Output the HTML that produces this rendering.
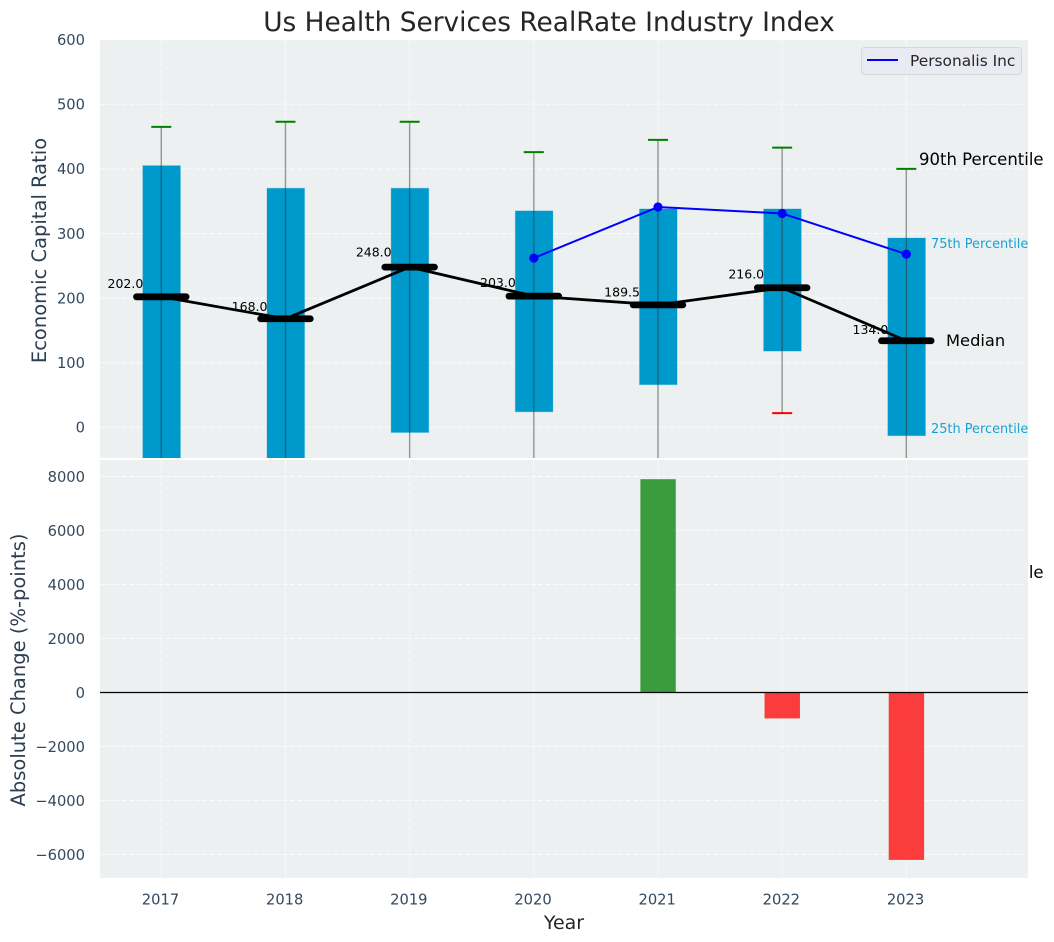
<!DOCTYPE html>
<html>
<head>
<meta charset="utf-8">
<title>Us Health Services RealRate Industry Index</title>
<style>
html,body{margin:0;padding:0;background:#fff;}
svg{display:block;font-family:"DejaVu Sans","Liberation Sans",sans-serif;}
</style>
</head>
<body>
<svg id="chart" width="1054" height="942" viewBox="0 0 1054 942" xmlns="http://www.w3.org/2000/svg">
<defs>
<clipPath id="clip-top"><rect x="100" y="40" width="928" height="418"/></clipPath>
<clipPath id="clip-bottom"><rect x="100" y="460" width="928" height="418"/></clipPath>
</defs>
<text x="549" y="31" font-size="26.4" fill="#262626" text-anchor="middle">Us Health Services RealRate Industry Index</text>
<text x="919" y="578" font-size="16.5" fill="#000">10th Percentile</text>
<rect x="100" y="40" width="928" height="418" fill="#ecf0f1"/>
<rect x="100" y="460" width="928" height="418" fill="#ecf0f1"/>
<g id="grid-layer"></g>
<g id="top-layer" clip-path="url(#clip-top)"></g>
<g id="bottom-layer" clip-path="url(#clip-bottom)"></g>
<g id="label-layer"></g>
<g id="tick-layer"></g>
<text transform="translate(46,250.5) rotate(-90)" font-size="19.5" fill="#2c3e50" text-anchor="middle">Economic Capital Ratio</text>
<text transform="translate(25,670) rotate(-90)" font-size="19.5" fill="#2c3e50" text-anchor="middle">Absolute Change (%-points)</text>
<text x="564" y="929" font-size="19" fill="#262626" text-anchor="middle">Year</text>
<text x="919" y="165" font-size="16.5" fill="#000">90th Percentile</text>
<text x="931" y="248" font-size="12.9" fill="#0099cc" fill-opacity="0.9">75th Percentile</text>
<text x="946" y="346" font-size="16.3" fill="#000">Median</text>
<text x="931" y="433" font-size="12.9" fill="#0099cc" fill-opacity="0.9">25th Percentile</text>
<g>
<rect x="861.5" y="47.5" width="160" height="27" rx="3" fill="#eaeaf2" stroke="#d5d8dc"/>
<line x1="867" x2="898" y1="60" y2="60" stroke="#0000ff" stroke-width="2"/>
<text x="910" y="66" font-size="15.4" fill="#262626">Personalis Inc</text>
</g>
<script>
var years = [2017, 2018, 2019, 2020, 2021, 2022, 2023];
var p90 = [465, 473, 473, 426, 445, 433, 400];
var p75 = [405, 370, 370, 335, 338, 338, 293];
var medians = [202, 168, 248, 203, 189.5, 216, 134];
var p25 = [-90, -90, -8, 24, 66, 118, -13];
var p10 = [-160, -160, -160, -160, -160, 22, -160];
var company = [null, null, null, 262, 341, 331, 268];
var changes = [null, null, null, null, 7900, -960, -6200];
var topTicks = [0, 100, 200, 300, 400, 500, 600];
var bottomTicks = [-6000, -4000, -2000, 0, 2000, 4000, 6000, 8000];

var NS = 'http://www.w3.org/2000/svg';
function xPos(v) { return 161.3 + (v - 2017) * 124.17; }
function yTop(v) { return 427.3 - v * 0.646; }
function yBottom(v) { return 692.5 - v * 0.027; }
function make(parent, tag, props) {
  var el = document.createElementNS(NS, tag);
  for (var k in props) { el.setAttribute(k, props[k]); }
  parent.appendChild(el);
  return el;
}
var grid = document.getElementById('grid-layer');
var topLayer = document.getElementById('top-layer');
var bottomLayer = document.getElementById('bottom-layer');
var labelLayer = document.getElementById('label-layer');
var tickLayer = document.getElementById('tick-layer');
var dash = '5.1 2.2';

topTicks.forEach(function (t) {
  var y = yTop(t);
  var g = make(grid, 'line', {x1: 100, x2: 1028, y1: y, y2: y, stroke: '#fff', 'stroke-width': 1, 'stroke-dasharray': dash, 'stroke-opacity': 0.75});
  
  
  var l = make(tickLayer, 'text', {x: 85, y: y + 5.3, 'font-size': 14.7, fill: '#34495e', 'text-anchor': 'end'});
  l.textContent = String(t);
  
  
});
bottomTicks.forEach(function (t) {
  var y = yBottom(t);
  var g = make(grid, 'line', {x1: 100, x2: 1028, y1: y, y2: y, stroke: '#fff', 'stroke-width': 1, 'stroke-dasharray': dash, 'stroke-opacity': 0.75});
  
  
  var l = make(tickLayer, 'text', {x: 85, y: y + 5.3, 'font-size': 14.7, fill: '#34495e', 'text-anchor': 'end'});
  l.textContent = String(t).replace('-', '\u2212');
  
  
});
years.forEach(function (yr) {
  var x = xPos(yr);
  var a = make(grid, 'line', {x1: x, x2: x, y1: 40, y2: 458, stroke: '#fff', 'stroke-width': 1, 'stroke-dasharray': dash, 'stroke-opacity': 0.75});
  
  
  var b = make(grid, 'line', {x1: x, x2: x, y1: 460, y2: 878, stroke: '#fff', 'stroke-width': 1, 'stroke-dasharray': dash, 'stroke-opacity': 0.75});
  
  
  var l = make(tickLayer, 'text', {x: x - 0.8, y: 904.5, 'font-size': 14.7, fill: '#34495e', 'text-anchor': 'middle'});
  l.textContent = String(yr);
  
  
});

years.forEach(function (yr, i) {
  var x = xPos(yr);
  var box = make(topLayer, 'rect', {x: x - 18.5, y: yTop(p75[i]), width: 37.6, height: yTop(p25[i]) - yTop(p75[i]), fill: '#0099cc', stroke: '#0099cc', 'stroke-opacity': 0.25, 'stroke-width': 1});
  
  
});
years.forEach(function (yr, i) {
  var x = xPos(yr);
  var w = make(topLayer, 'line', {x1: x, x2: x, y1: yTop(p90[i]), y2: yTop(p10[i]), stroke: '#333', 'stroke-opacity': 0.5, 'stroke-width': 1.4});
  
  
  var c = make(topLayer, 'line', {x1: x - 10, x2: x + 10, y1: yTop(p90[i]), y2: yTop(p90[i]), stroke: '#008000', 'stroke-width': 2});
  
  
  var d = make(topLayer, 'line', {x1: x - 10, x2: x + 10, y1: yTop(p10[i]), y2: yTop(p10[i]), stroke: '#ff0000', 'stroke-width': 2});
  
  
});

var medianPts = years.map(function (yr, i) { return xPos(yr) + ',' + yTop(medians[i]); }).join(' ');
var medLine = make(topLayer, 'polyline', {points: medianPts, fill: 'none', stroke: '#000', 'stroke-width': 2.8});



years.forEach(function (yr, i) {
  var x = xPos(yr);
  var y = yTop(medians[i]);
  var m = make(topLayer, 'line', {x1: x - 24.8, x2: x + 24.8, y1: y, y2: y, stroke: '#000', 'stroke-width': 6.8, 'stroke-linecap': 'round'});
  
  
  var t = make(labelLayer, 'text', {x: x - 18, y: yTop(medians[i] * 1.05) - 2.5, 'font-size': 12.5, fill: '#000', 'text-anchor': 'end'});
  t.textContent = medians[i].toFixed(1);
  
  
});

var companyPts = [];
years.forEach(function (yr, i) {
  if (company[i] !== null) { companyPts.push(xPos(yr) + ',' + yTop(company[i])); }
});
var compLine = make(topLayer, 'polyline', {points: companyPts.join(' '), fill: 'none', stroke: '#0000ff', 'stroke-width': 2});


years.forEach(function (yr, i) {
  if (company[i] === null) { return; }
  var p = make(topLayer, 'circle', {cx: xPos(yr), cy: yTop(company[i]), r: 4.6, fill: '#0000ff'});
  
  
});

years.forEach(function (yr, i) {
  if (changes[i] === null) { return; }
  var y0 = yBottom(0);
  var y1 = yBottom(changes[i]);
  var b = make(bottomLayer, 'rect', {x: xPos(yr) - 17.6, y: Math.min(y0, y1), width: 35.4, height: Math.abs(y1 - y0), fill: changes[i] >= 0 ? '#008000' : '#ff0000', 'fill-opacity': 0.75});
  
  
});
var zero = make(bottomLayer, 'line', {x1: 100, x2: 1028, y1: yBottom(0), y2: yBottom(0), stroke: '#000', 'stroke-width': 1.2});


</script>
</svg>
</body>
</html>
